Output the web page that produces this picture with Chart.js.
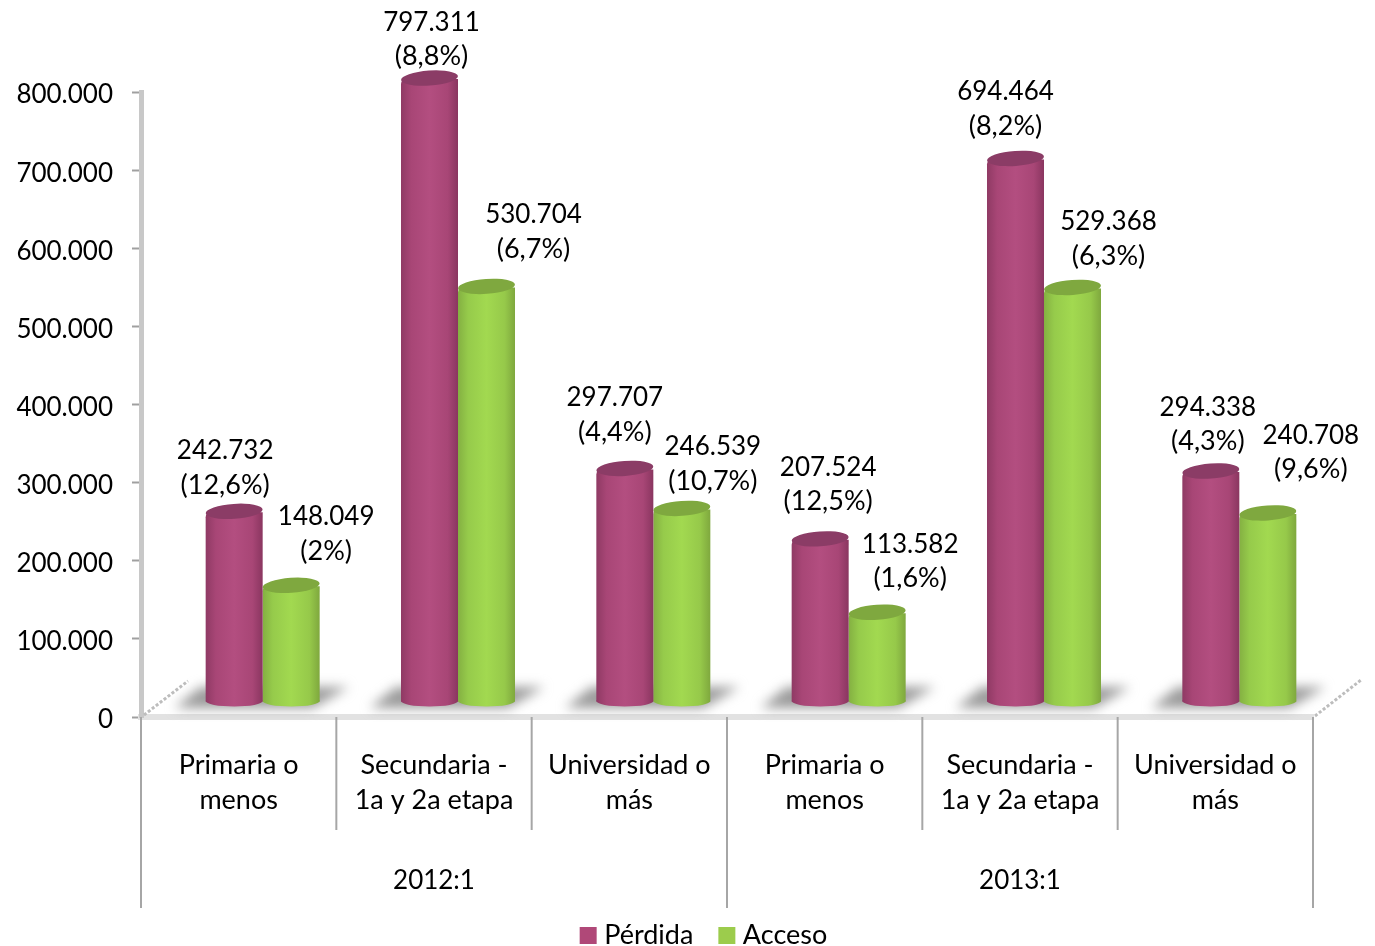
<!DOCTYPE html>
<html>
<head>
<meta charset="utf-8">
<style>html,body{margin:0;padding:0;background:#fff}#w{width:1375px;height:946px;overflow:hidden}canvas{display:block}</style>
<script src="https://cdn.jsdelivr.net/npm/chart.js@4/dist/chart.umd.min.js"></script>
</head>
<body>
<div id="w"><canvas id="c" width="1375" height="946"></canvas></div>
<script>
const categories = [["Primaria o","menos"],["Secundaria -","1a y 2a etapa"],["Universidad o","más"],["Primaria o","menos"],["Secundaria -","1a y 2a etapa"],["Universidad o","más"]];
const periods = ["2012:1","2013:1"];
const perdida = [242732,797311,297707,207524,694464,294338];
const acceso = [148049,530704,246539,113582,529368,240708];
const perdidaPct = ["(12,6%)","(8,8%)","(4,4%)","(12,5%)","(8,2%)","(4,3%)"];
const accesoPct = ["(2%)","(6,7%)","(10,7%)","(1,6%)","(6,3%)","(9,6%)"];

const FONT = "Lato";
const FS = 26, FS_TEXT = 27;
const DX = 24, DY = -15;
const fmt = v => String(v).replace(/\B(?=(\d{3})+(?!\d))/g, ".");
const labelOffsets = [
  [[-9,-60],[2,-55],[-10,-70],[8,-71],[-10,-66],[-3,-63]],
  [[35,-68],[47,-71],[31,-61],[33,-67],[36,-65],[43,-77]]
];
const pcts = [perdidaPct, accesoPct];
const palette = [
  {stops:["#8f3a64","#a84676","#b34e80","#a84676","#8a3660"],top:"#8b3c66",legend:"#b04878"},
  {stops:["#84b042","#96cb4b","#a2d950","#96c94a","#7fa83e"],top:"#7fa83f",legend:"#9ccc4c"}
];
const LEG_PAD = 31;

function cylGradient(c2d, x0, d){
  const g = c2d.createLinearGradient(x0, 0, x0 + 57, 0);
  [0,0.18,0.5,0.82,1].forEach((p,i)=>g.addColorStop(p,palette[d].stops[i]));
  return g;
}
function barFill(dsIndex){
  return function(ctx){
    const pal = palette[dsIndex];
    const sc = ctx.chart.scales.x;
    if (!sc || ctx.dataIndex === undefined) return pal.legend;
    const c = sc.getPixelForValue(ctx.dataIndex);
    if (!Number.isFinite(c)) return pal.legend;
    return cylGradient(ctx.chart.ctx, dsIndex === 0 ? c - 57 : c, dsIndex);
  };
}

const decor = {
  id: "decor",
  afterLayout(chart){
    const l = chart.legend;
    l.top += 13; l.bottom += 13;
    l.left += 50; l.right += 50;
  },
  beforeDatasetsDraw(chart){
    const ctx = chart.ctx, a = chart.chartArea, sc = chart.scales.x;
    ctx.save();
    // floor edges
    ctx.strokeStyle = "#bdbdbd"; ctx.lineWidth = 3; ctx.setLineDash([3,2]);
    [[a.left+3,a.bottom-2,a.left+47,a.bottom-36],[a.right+2,a.bottom-1,a.right+48,a.bottom-37]].forEach(s=>{
      ctx.beginPath(); ctx.moveTo(s[0],s[1]); ctx.lineTo(s[2],s[3]); ctx.stroke();
    });
    ctx.setLineDash([]);
    // soft floor shadows
    ctx.filter = "blur(6px)";
    ctx.fillStyle = "#9a9a9a";
    categories.forEach((_,i)=>{
      const c = sc.getPixelForValue(i);
      ctx.beginPath();
      ctx.moveTo(c-38,a.bottom-30); ctx.lineTo(c+110,a.bottom-30);
      ctx.lineTo(c+74,a.bottom-9); ctx.lineTo(c-64,a.bottom-9);
      ctx.closePath(); ctx.fill();
    });
    ctx.filter = "none";
    ctx.restore();
    ctx.save();
    ctx.translate(DX,DY);
    ctx.filter = "blur(0.7px)";
    // bottom caps of the cylinders
    [0,1].forEach(d=>{
      chart.getDatasetMeta(d).data.forEach(el=>{
        ctx.fillStyle = cylGradient(ctx, el.x-28.5, d);
        ctx.beginPath();
        ctx.ellipse(el.x, a.bottom-1, 28.5, 5.5, 0, 0, Math.PI*2);
        ctx.fill();
      });
    });
  },
  afterDatasetsDraw(chart){
    const ctx = chart.ctx;
    [0,1].forEach(d=>{
      chart.getDatasetMeta(d).data.forEach(el=>{
        ctx.fillStyle = palette[d].top;
        ctx.beginPath();
        ctx.ellipse(el.x, el.y-1, 28.5, 7.5, -0.07, 0, Math.PI*2);
        ctx.fill();
      });
    });
    ctx.restore();
  },
  afterDraw(chart){
    const ctx = chart.ctx, a = chart.chartArea, sc = chart.scales.x;
    ctx.save();
    // group separators
    ctx.strokeStyle = "#a6a6a6"; ctx.lineWidth = 2;
    const step = sc.getPixelForValue(1) - sc.getPixelForValue(0);
    for (let i=0;i<=categories.length;i++){
      const x = sc.getPixelForValue(0) - step/2 + i*step;
      ctx.beginPath();
      ctx.moveTo(x,a.bottom);
      ctx.lineTo(x, i%3===0 ? a.bottom+191 : a.bottom+113);
      ctx.stroke();
    }
    // period labels and data labels
    ctx.fillStyle = "#000";
    ctx.textAlign = "center"; ctx.textBaseline = "middle";
    ctx.font = FS+"px "+FONT;
    periods.forEach((p,i)=>{
      ctx.fillText(p, sc.getPixelForValue(3*i+1), a.bottom+164);
    });
    [0,1].forEach(d=>{
      const vals = chart.data.datasets[d].data;
      chart.getDatasetMeta(d).data.forEach((el,i)=>{
        const o = labelOffsets[d][i];
        const x = el.x+DX+o[0], y = el.y+DY+o[1]-1.5;
        ctx.font = FS+"px "+FONT;
        ctx.fillText(fmt(vals[i]), x, y);
        ctx.font = FS_TEXT+"px "+FONT;
        ctx.fillText(pcts[d][i], x, y+34);
      });
    });
    ctx.restore();
  }
};

new Chart(document.getElementById("c"), {
  type: "bar",
  data: {
    labels: categories,
    datasets: [
      {label:"Pérdida", data:perdida, backgroundColor:barFill(0), borderWidth:0, borderRadius:{topLeft:5,topRight:0,bottomLeft:0,bottomRight:0}, borderSkipped:false, clip:false},
      {label:"Acceso", data:acceso, backgroundColor:barFill(1), borderWidth:0, borderRadius:{topLeft:5,topRight:0,bottomLeft:0,bottomRight:0}, borderSkipped:false, clip:false}
    ]
  },
  plugins: [decor],
  options: {
    responsive:false,
    animation:false,
    events:[],
    layout:{padding:{top:92,right:62,left:0,bottom:0}},
    datasets:{bar:{categoryPercentage:114/195.33,barPercentage:1}},
    scales:{
      x:{
        afterFit(s){ s.height = 229 - s.chart.legend.height; },
        grid:{display:true,drawOnChartArea:false,drawTicks:false,color:"rgba(0,0,0,0)"},
        border:{display:true,color:"#e2e2e2",width:6},
        ticks:{autoSkip:false,maxRotation:0,minRotation:0,color:"#000",padding:31,font:{family:FONT,size:FS_TEXT,lineHeight:35/FS_TEXT}}
      },
      y:{
        min:0,max:800000,
        afterFit(s){ s.width = 141; },
        grid:{drawOnChartArea:false,drawTicks:true,tickLength:9,tickWidth:2,tickColor:"#a0a0a0"},
        border:{display:true,color:"#c8c8c8",width:5},
        ticks:{stepSize:100000,color:"#000",padding:19,labelOffset:3,font:{family:FONT,size:FS},callback:v=>fmt(v)}
      }
    },
    plugins:{
      tooltip:{enabled:false},
      legend:{
        position:"bottom",
        labels:{
          usePointStyle:true,pointStyle:"rect",boxWidth:5,boxHeight:17,padding:LEG_PAD,color:"#000",
          font:{family:FONT,size:FS_TEXT},
          generateLabels(chart){
            return Chart.defaults.plugins.legend.labels.generateLabels(chart).map((it,i)=>Object.assign(it,{
              fillStyle:palette[i].legend,strokeStyle:palette[i].legend,lineWidth:0,pointStyle:"rect"
            }));
          }
        }
      }
    }
  }
});
</script>
</body>
</html>
